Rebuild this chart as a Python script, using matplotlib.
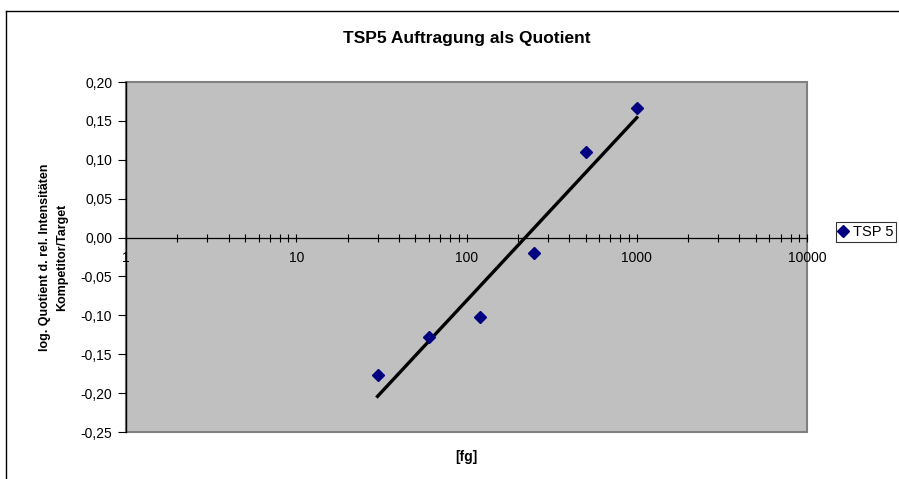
import numpy as np
import matplotlib.pyplot as plt
from matplotlib.patches import Rectangle
from matplotlib.ticker import FixedLocator, LogLocator, NullFormatter

plt.rcParams['font.family'] = ['Liberation Sans', 'DejaVu Sans']

# data
conc_fg = [30, 60, 120, 250, 500, 1000]
log_ratio = [-0.177, -0.128, -0.102, -0.020, 0.110, 0.167]
x_ticks = [1, 10, 100, 1000, 10000]
y_ticks = [-0.25, -0.20, -0.15, -0.10, -0.05, 0.00, 0.05, 0.10, 0.15, 0.20]

fig = plt.figure(figsize=(8.99, 4.79), dpi=100)
ax = fig.add_axes([0.1402, 0.0981, 0.7575, 0.7307])
ax.set_facecolor('#c0c0c0')

# outer chart frame (only left/top visible in the picture)
fig.add_artist(plt.Line2D([6/899, 6/899], [0, 1 - 11/479], color='black', lw=1))
fig.add_artist(plt.Line2D([6/899, 1], [1 - 11/479, 1 - 11/479], color='black', lw=1))

# log trendline
lx = np.log10(conc_fg)
k, d = np.polyfit(lx, log_ratio, 1)
xs = np.array([min(conc_fg), max(conc_fg)])
ax.plot(xs, k * np.log10(xs) + d, color='black', lw=2.4, zorder=3)

ax.plot(conc_fg, log_ratio, linestyle='none', marker='D', markersize=6.5,
        color='#000080', label='TSP 5', zorder=4)

ax.set_xscale('log')
ax.set_xlim(1, 10000)
ax.set_ylim(-0.25, 0.20)

# x axis crosses at y = 0
ax.spines['bottom'].set_position(('data', 0))
ax.spines['bottom'].set_linewidth(0.9)
for s in ['top', 'right']:
    ax.spines[s].set_visible(False)
ax.spines['left'].set_color('black')
ax.spines['left'].set_linewidth(1.0)
ax.add_patch(Rectangle((0, 0), 1, 1, transform=ax.transAxes, fill=False,
                       edgecolor='#808080', lw=1.5, zorder=0.5, clip_on=False))

ax.xaxis.set_major_locator(FixedLocator(x_ticks))
ax.set_xticklabels([str(v) for v in x_ticks])
ax.xaxis.set_minor_locator(LogLocator(base=10, subs=np.arange(2, 10)))
ax.xaxis.set_minor_formatter(NullFormatter())
ax.tick_params(axis='x', which='both', direction='inout', length=6, width=0.8,
               labelsize=10, pad=7, colors='black')
ax.set_yticks(y_ticks)
ax.set_yticklabels([f"{v:.2f}".replace('.', ',').replace('-0,00', '0,00') for v in y_ticks])
ax.tick_params(axis='y', direction='out', length=6, width=0.8, labelsize=10, pad=4)

ax.set_title('TSP5 Auftragung als Quotient', fontsize=12.5, fontweight='bold', pad=28)
ax.set_ylabel('log. Quotient d. rel. Intensitäten\nKompetitor/Target',
              fontsize=9, fontweight='bold', labelpad=9, linespacing=1.5)
fig.text(466/899, 1 - 457/479, '[fg]', ha='center', va='center',
         fontsize=10, fontweight='bold')

leg = fig.legend(loc='upper left', bbox_to_anchor=(836/899, 1 - 222/479),
                 frameon=True, fancybox=False, fontsize=10.5, handlelength=0.6,
                 handletextpad=0.35, borderpad=0.2, borderaxespad=0)
leg.get_frame().set_edgecolor('black')
leg.get_frame().set_linewidth(0.8)

fig.savefig('out.png', dpi=100)
